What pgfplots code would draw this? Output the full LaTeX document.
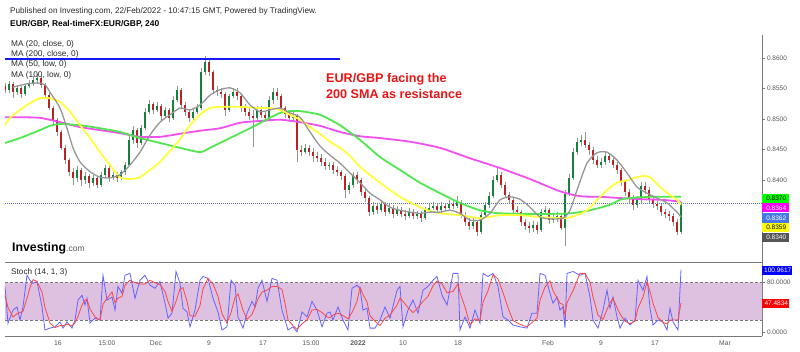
\documentclass[border=0pt]{standalone}
\usepackage{pgfplots}
\usepackage{pgfplotstable}
\pgfplotsset{compat=1.18}
\usepackage{fontspec}
\setmainfont{Liberation Sans}
\definecolor{upc}{RGB}{22,128,60}
\definecolor{dnc}{RGB}{185,35,35}
\definecolor{wick}{RGB}{140,155,140}
\definecolor{ma20}{RGB}{150,150,150}
\definecolor{ma50}{RGB}{255,255,60}
\definecolor{ma100}{RGB}{80,230,80}
\definecolor{ma200}{RGB}{240,80,240}
\definecolor{resist}{RGB}{25,25,245}
\definecolor{cur}{RGB}{80,110,230}
\definecolor{lilac}{RGB}{222,192,224}
\definecolor{kline}{RGB}{100,100,255}
\definecolor{dline}{RGB}{255,70,70}
\definecolor{axgray}{RGB}{120,120,120}
\definecolor{lblgray}{RGB}{85,85,85}
\definecolor{boxgreen}{RGB}{0,255,0}
\definecolor{boxmag}{RGB}{255,0,255}
\definecolor{boxblue}{RGB}{70,120,230}
\definecolor{boxyel}{RGB}{255,255,0}
\definecolor{boxgray}{RGB}{85,85,85}
\definecolor{annred}{RGB}{235,20,20}
\definecolor{stochblue}{RGB}{0,0,255}
\definecolor{txt}{RGB}{40,40,40}

\pgfplotstableread{
x o h l c
5 0.8554 0.8559 0.8543 0.8548
9 0.8548 0.8562 0.8543 0.8557
13 0.8557 0.8561 0.8534 0.8544
17 0.8544 0.8556 0.8539 0.8551
21 0.8551 0.8554 0.8534 0.8541
25 0.8541 0.8557 0.8538 0.8554
29 0.8554 0.8564 0.8551 0.8557
33 0.8557 0.8570 0.8554 0.8564
37 0.8564 0.8574 0.8557 0.8567
41 0.8567 0.8570 0.8551 0.8556
45 0.8556 0.8559 0.8534 0.8539
49 0.8539 0.8543 0.8515 0.8518
53 0.8518 0.8521 0.8492 0.8499
57 0.8499 0.8502 0.8472 0.8479
61 0.8479 0.8482 0.8450 0.8453
65 0.8453 0.8458 0.8427 0.8433
69 0.8433 0.8436 0.8407 0.8414
73 0.8414 0.8420 0.8392 0.8404
77 0.8404 0.8423 0.8397 0.8417
81 0.8417 0.8420 0.8391 0.8400
85 0.8400 0.8414 0.8394 0.8407
89 0.8407 0.8410 0.8387 0.8396
93 0.8396 0.8409 0.8391 0.8404
97 0.8404 0.8407 0.8387 0.8392
101 0.8392 0.8414 0.8389 0.8409
105 0.8409 0.8425 0.8404 0.8420
109 0.8420 0.8423 0.8397 0.8404
113 0.8404 0.8414 0.8400 0.8409
117 0.8409 0.8414 0.8397 0.8404
121 0.8404 0.8417 0.8400 0.8414
125 0.8414 0.8430 0.8409 0.8425
129 0.8425 0.8472 0.8423 0.8466
133 0.8466 0.8489 0.8459 0.8482
137 0.8482 0.8485 0.8453 0.8461
141 0.8461 0.8490 0.8458 0.8485
145 0.8485 0.8518 0.8482 0.8512
149 0.8512 0.8531 0.8508 0.8525
153 0.8525 0.8528 0.8508 0.8515
157 0.8515 0.8528 0.8512 0.8521
161 0.8521 0.8525 0.8499 0.8505
165 0.8505 0.8520 0.8502 0.8515
169 0.8515 0.8518 0.8495 0.8502
173 0.8502 0.8538 0.8499 0.8531
177 0.8531 0.8554 0.8528 0.8548
181 0.8548 0.8551 0.8518 0.8523
185 0.8523 0.8528 0.8505 0.8512
189 0.8512 0.8515 0.8495 0.8502
193 0.8502 0.8518 0.8499 0.8512
197 0.8512 0.8525 0.8508 0.8518
201 0.8518 0.8583 0.8515 0.8577
205 0.8577 0.8603 0.8572 0.8593
209 0.8593 0.8597 0.8570 0.8577
213 0.8577 0.8580 0.8541 0.8548
217 0.8548 0.8554 0.8538 0.8544
221 0.8544 0.8551 0.8534 0.8541
225 0.8541 0.8544 0.8505 0.8515
229 0.8515 0.8541 0.8512 0.8538
233 0.8538 0.8551 0.8534 0.8544
237 0.8544 0.8551 0.8531 0.8538
241 0.8538 0.8541 0.8512 0.8518
245 0.8518 0.8525 0.8505 0.8512
249 0.8512 0.8518 0.8499 0.8505
253 0.8505 0.8515 0.8454 0.8502
257 0.8502 0.8521 0.8495 0.8515
261 0.8515 0.8521 0.8502 0.8507
265 0.8507 0.8512 0.8495 0.8502
269 0.8502 0.8538 0.8499 0.8531
273 0.8531 0.8551 0.8525 0.8544
277 0.8544 0.8551 0.8531 0.8538
281 0.8538 0.8541 0.8512 0.8518
285 0.8518 0.8521 0.8502 0.8508
289 0.8508 0.8515 0.8495 0.8502
293 0.8502 0.8512 0.8495 0.8505
297 0.8505 0.8508 0.8430 0.8450
301 0.8450 0.8458 0.8440 0.8446
305 0.8446 0.8459 0.8443 0.8453
309 0.8453 0.8458 0.8440 0.8446
313 0.8446 0.8453 0.8430 0.8440
317 0.8440 0.8446 0.8430 0.8436
321 0.8436 0.8443 0.8423 0.8430
325 0.8430 0.8436 0.8417 0.8423
329 0.8423 0.8430 0.8417 0.8425
333 0.8425 0.8430 0.8410 0.8417
337 0.8417 0.8423 0.8407 0.8414
341 0.8414 0.8417 0.8400 0.8407
345 0.8407 0.8410 0.8371 0.8384
349 0.8384 0.8397 0.8378 0.8392
353 0.8392 0.8414 0.8387 0.8409
357 0.8409 0.8414 0.8394 0.8400
361 0.8400 0.8404 0.8374 0.8381
365 0.8381 0.8387 0.8365 0.8371
369 0.8371 0.8374 0.8342 0.8348
373 0.8348 0.8365 0.8343 0.8358
377 0.8358 0.8363 0.8345 0.8351
381 0.8351 0.8368 0.8348 0.8361
385 0.8361 0.8365 0.8342 0.8348
389 0.8348 0.8361 0.8345 0.8355
393 0.8355 0.8360 0.8338 0.8345
397 0.8345 0.8358 0.8342 0.8351
401 0.8351 0.8356 0.8340 0.8345
405 0.8345 0.8351 0.8335 0.8342
409 0.8342 0.8355 0.8338 0.8348
413 0.8348 0.8353 0.8337 0.8342
417 0.8342 0.8350 0.8337 0.8345
421 0.8345 0.8350 0.8332 0.8338
425 0.8338 0.8356 0.8335 0.8351
429 0.8351 0.8361 0.8348 0.8355
433 0.8355 0.8365 0.8351 0.8358
437 0.8358 0.8363 0.8346 0.8351
441 0.8351 0.8365 0.8346 0.8358
445 0.8358 0.8363 0.8350 0.8355
449 0.8355 0.8368 0.8351 0.8361
453 0.8361 0.8366 0.8353 0.8358
457 0.8358 0.8374 0.8355 0.8365
461 0.8365 0.8368 0.8338 0.8343
465 0.8343 0.8348 0.8325 0.8332
469 0.8332 0.8338 0.8319 0.8325
473 0.8325 0.8338 0.8320 0.8332
477 0.8332 0.8335 0.8309 0.8316
481 0.8316 0.8348 0.8312 0.8343
485 0.8343 0.8365 0.8338 0.8360
489 0.8360 0.8381 0.8355 0.8374
493 0.8374 0.8407 0.8371 0.8400
497 0.8400 0.8423 0.8397 0.8409
501 0.8409 0.8414 0.8387 0.8392
505 0.8392 0.8397 0.8371 0.8376
509 0.8376 0.8381 0.8361 0.8368
513 0.8368 0.8373 0.8346 0.8351
517 0.8351 0.8358 0.8342 0.8348
521 0.8348 0.8351 0.8325 0.8332
525 0.8332 0.8337 0.8319 0.8325
529 0.8325 0.8332 0.8314 0.8322
533 0.8322 0.8334 0.8316 0.8327
537 0.8327 0.8332 0.8312 0.8319
541 0.8319 0.8353 0.8316 0.8348
545 0.8348 0.8358 0.8343 0.8351
549 0.8351 0.8355 0.8329 0.8335
553 0.8335 0.8345 0.8330 0.8338
557 0.8338 0.8348 0.8332 0.8342
561 0.8342 0.8346 0.8319 0.8322
565 0.8322 0.8384 0.8293 0.8378
569 0.8378 0.8410 0.8374 0.8404
573 0.8404 0.8453 0.8400 0.8446
577 0.8446 0.8469 0.8441 0.8463
581 0.8463 0.8474 0.8456 0.8466
585 0.8466 0.8479 0.8453 0.8458
589 0.8458 0.8463 0.8441 0.8450
593 0.8450 0.8454 0.8427 0.8433
597 0.8433 0.8440 0.8420 0.8425
601 0.8425 0.8436 0.8420 0.8430
605 0.8430 0.8446 0.8425 0.8440
609 0.8440 0.8445 0.8428 0.8433
613 0.8433 0.8438 0.8420 0.8425
617 0.8425 0.8430 0.8410 0.8417
621 0.8417 0.8420 0.8391 0.8397
625 0.8397 0.8400 0.8374 0.8381
629 0.8381 0.8386 0.8363 0.8371
633 0.8371 0.8376 0.8351 0.8360
637 0.8360 0.8374 0.8355 0.8368
641 0.8368 0.8397 0.8363 0.8391
645 0.8391 0.8397 0.8378 0.8384
649 0.8384 0.8389 0.8361 0.8368
653 0.8368 0.8373 0.8355 0.8361
657 0.8361 0.8366 0.8351 0.8358
661 0.8358 0.8363 0.8342 0.8348
665 0.8348 0.8353 0.8338 0.8345
669 0.8345 0.8350 0.8334 0.8342
673 0.8342 0.8346 0.8325 0.8332
677 0.8332 0.8337 0.8311 0.8316
681 0.8316 0.8365 0.8312 0.8362
}\candles

\pgfplotstableread{
x y
13 0.8552
25 0.8557
38 0.8559
45 0.8556
50 0.8544
60 0.8518
67 0.8485
73 0.8453
80 0.8430
90 0.8414
100 0.8405
110 0.8404
120 0.8409
130 0.8425
140 0.8446
150 0.8474
160 0.8495
170 0.8507
180 0.8518
190 0.8515
200 0.8523
210 0.8539
220 0.8548
230 0.8551
240 0.8543
250 0.8523
260 0.8512
270 0.8515
280 0.8518
290 0.8510
300 0.8503
310 0.8479
320 0.8456
330 0.8441
340 0.8428
350 0.8412
360 0.8396
370 0.8379
380 0.8368
390 0.8356
400 0.8351
410 0.8348
420 0.8346
430 0.8348
440 0.8348
450 0.8351
460 0.8346
470 0.8335
480 0.8335
490 0.8346
500 0.8368
510 0.8373
520 0.8369
530 0.8356
540 0.8340
550 0.8337
563 0.8338
570 0.8351
577 0.8384
587 0.8428
597 0.8445
607 0.8446
617 0.8433
627 0.8412
637 0.8389
647 0.8379
657 0.8371
667 0.8363
677 0.8348
681 0.8340
}\maA

\pgfplotstableread{
x y
5 0.8490
10 0.8502
20 0.8515
30 0.8526
40 0.8534
50 0.8534
60 0.8528
70 0.8512
80 0.8490
90 0.8469
100 0.8446
110 0.8425
120 0.8405
130 0.8402
140 0.8405
150 0.8417
160 0.8430
170 0.8448
180 0.8467
190 0.8490
200 0.8507
210 0.8518
220 0.8520
240 0.8520
260 0.8518
270 0.8518
280 0.8515
290 0.8507
300 0.8499
310 0.8487
320 0.8476
330 0.8463
340 0.8453
350 0.8440
360 0.8422
380 0.8396
400 0.8373
420 0.8356
430 0.8350
440 0.8346
460 0.8343
480 0.8338
500 0.8343
520 0.8343
540 0.8340
565 0.8338
577 0.8343
587 0.8351
597 0.8368
607 0.8384
617 0.8396
627 0.8400
637 0.8405
643 0.8407
650 0.8405
660 0.8389
670 0.8376
677 0.8368
681 0.8360
}\maB

\pgfplotstableread{
x y
5 0.8461
20 0.8469
40 0.8482
50 0.8489
60 0.8492
80 0.8490
100 0.8485
120 0.8479
140 0.8469
160 0.8461
180 0.8453
200 0.8446
210 0.8453
230 0.8469
250 0.8485
270 0.8502
280 0.8510
290 0.8513
300 0.8513
320 0.8507
340 0.8490
360 0.8466
380 0.8438
400 0.8417
420 0.8396
440 0.8379
460 0.8363
480 0.8351
500 0.8346
540 0.8345
570 0.8346
590 0.8351
610 0.8360
620 0.8368
630 0.8371
650 0.8373
681 0.8373
}\maC

\pgfplotstableread{
x y
5 0.8503
20 0.8503
40 0.8502
60 0.8495
80 0.8487
100 0.8482
120 0.8477
140 0.8471
160 0.8471
180 0.8476
200 0.8481
220 0.8485
240 0.8494
260 0.8497
280 0.8499
300 0.8495
320 0.8489
340 0.8479
360 0.8472
380 0.8469
410 0.8463
440 0.8453
470 0.8436
500 0.8420
530 0.8402
560 0.8382
580 0.8374
600 0.8373
620 0.8371
643 0.8369
663 0.8368
681 0.8365
}\maD

\pgfplotstableread{
x k d
5 74 60
8 15 40
13 36 25
17 41 30
20 20 32
23 41 34
27 92 55
30 84 72
33 79 85
37 82 82
42 41 65
45 4 40
50 7 15
55 9 8
60 17 11
63 7 11
67 17 13
72 7 11
75 20 15
78 52 26
82 60 44
85 44 52
87 55 53
90 15 38
95 23 25
100 20 20
103 92 45
107 52 55
112 57 65
115 36 48
118 74 55
122 63 58
125 92 76
130 95 84
135 55 80
140 84 78
145 92 78
150 76 84
155 71 80
160 82 77
165 47 66
168 23 50
172 31 34
176 98 50
180 79 70
183 39 72
187 33 50
190 9 27
195 36 26
200 84 43
203 90 70
208 87 87
213 55 78
218 33 58
222 4 30
227 9 15
231 84 32
235 76 56
238 25 62
243 7 36
247 31 21
252 50 29
255 41 41
258 71 54
262 84 65
267 50 68
272 87 74
277 84 74
282 36 69
285 20 47
288 4 20
293 9 11
297 1 5
302 33 14
307 25 20
312 50 36
317 36 37
322 9 32
327 31 25
330 33 24
333 20 28
338 41 31
343 20 27
348 4 22
352 71 32
357 76 50
360 71 73
363 36 61
367 39 49
370 7 27
375 7 18
380 20 11
385 41 23
390 23 28
397 68 44
400 74 55
403 9 50
408 36 40
413 52 32
418 31 40
423 68 50
428 74 58
433 84 75
437 90 83
442 60 78
447 44 64
453 95 66
458 95 78
460 4 64
465 25 41
470 7 12
475 36 22
480 15 19
483 95 49
488 90 67
493 95 93
498 74 86
503 25 64
508 20 40
513 12 19
520 9 13
527 7 9
532 31 16
537 31 23
540 95 52
545 92 73
550 63 83
553 47 67
557 57 56
560 36 47
563 41 45
565 7 28
567 95 48
573 98 67
580 92 95
585 95 95
590 57 81
593 20 57
598 7 28
603 36 21
607 68 37
610 39 48
613 57 55
617 25 40
620 7 30
625 23 18
630 12 14
635 20 18
638 84 39
643 68 57
647 90 81
650 39 66
653 12 47
658 20 24
663 17 16
667 4 14
670 39 20
673 17 20
678 4 20
681 100.96 47.48
}\stoch

\begin{document}
\begin{tikzpicture}[x=1pt,y=1pt]

% ---------- price panel ----------
\begin{axis}[
  at={(5pt,89pt)}, anchor=south west, scale only axis,
  width=757pt, height=227pt,
  xmin=5, xmax=762, ymin=0.82665, ymax=0.86374,
  axis x line=none, axis y line=right,
  axis line style={draw=axgray, line width=0.8pt, -},
  xtick=\empty,
  ytick={0.84,0.845,0.85,0.855,0.86},
  yticklabels={0.8400,0.8450,0.8500,0.8550,0.8600},
  y tick label style={font=\fontsize{6.5}{7}\selectfont, text=lblgray, xshift=-1pt},
  tick align=outside, major tick length=2.5pt,
  tick style={draw=axgray, line width=0.5pt},
  clip=true,
]
% wicks
\addplot[only marks, mark=none, mark size=0pt, mark options={draw opacity=0, fill opacity=0}, forget plot, color=wick,
  error bars/.cd, y dir=plus, y explicit, error mark=none,
  error bar style={color=wick, line width=0.6pt}]
  table[x=x, y=l, y error plus expr={\thisrow{h}-\thisrow{l}}] {\candles};
% up bodies
\addplot[only marks, mark=none, mark size=0pt, mark options={draw opacity=0, fill opacity=0}, forget plot, color=upc,
  error bars/.cd, y dir=plus, y explicit, error mark=none,
  error bar style={color=upc, line width=2.2pt}]
  table[x=x, y expr={\thisrow{c}>\thisrow{o} ? \thisrow{o} : nan},
        y error plus expr={\thisrow{c}-\thisrow{o}}] {\candles};
% down bodies
\addplot[only marks, mark=none, mark size=0pt, mark options={draw opacity=0, fill opacity=0}, forget plot, color=dnc,
  error bars/.cd, y dir=plus, y explicit, error mark=none,
  error bar style={color=dnc, line width=2.2pt}]
  table[x=x, y expr={\thisrow{o}>\thisrow{c} ? \thisrow{c} : nan},
        y error plus expr={\thisrow{o}-\thisrow{c}}] {\candles};
% current price line and resistance
\addplot[cur, line width=0.6pt, dash pattern=on 1pt off 1pt] coordinates {(5,0.8362) (762,0.8362)};
\addplot[resist, line width=1.8pt] coordinates {(5,0.8598) (340,0.8598)};
% moving averages
\addplot[ma200, line width=1.8pt, smooth, tension=0.4] table[x=x,y=y] {\maD};
\addplot[ma100, line width=1.8pt, smooth, tension=0.4] table[x=x,y=y] {\maC};
\addplot[ma50, line width=1.8pt, smooth, tension=0.4] table[x=x,y=y] {\maB};
\addplot[ma20, line width=1.3pt, smooth, tension=0.4] table[x=x,y=y] {\maA};
\end{axis}

% ---------- stochastic panel ----------
\begin{axis}[
  at={(5pt,15pt)}, anchor=south west, scale only axis,
  width=757pt, height=74pt,
  xmin=5, xmax=762, ymin=-5.7, ymax=113.3,
  axis x line=bottom, axis y line=right,
  axis line style={draw=axgray, line width=0.8pt, -},
  xtick={58,107,156,209,263,311,358,403,458,548,601,655,725},
  xticklabels={16,15:00,Dec,9,17,15:00,\textbf{2022},10,18,Feb,9,17,Mar},
  x tick label style={font=\fontsize{6.8}{7}\selectfont, text=lblgray, yshift=1pt},
  x tick style={draw=none},
  ytick={0,80},
  yticklabels={0.0000,80.0000},
  y tick label style={font=\fontsize{6.5}{7}\selectfont, text=lblgray, xshift=-1pt},
  tick align=outside, major tick length=2.5pt,
  y tick style={draw=axgray, line width=0.5pt},
  clip=true,
]
\addplot[draw=none, fill=lilac] coordinates {(5,20) (762,20) (762,80) (5,80) (5,20)};
\addplot[axgray, line width=0.7pt, dash pattern=on 3pt off 2pt] coordinates {(5,80) (762,80)};
\addplot[axgray, line width=0.7pt, dash pattern=on 3pt off 2pt] coordinates {(5,20) (762,20)};
\addplot[kline, line width=0.8pt] table[x=x,y=k] {\stoch};
\addplot[dline, line width=0.8pt] table[x=x,y=d] {\stoch};
\end{axis}

% panel separator
\draw[axgray, line width=0.8pt] (5,89) -- (762,89);

% ---------- texts ----------
\node[anchor=west, inner sep=0pt, text=txt, font=\fontsize{8.2}{9}\selectfont] at (10,340) {Published on Investing.com, 22/Feb/2022 - 10:47:15 GMT, Powered by TradingView.};
\node[anchor=west, inner sep=0pt, text=black, font=\fontsize{8.4}{9}\selectfont\bfseries] at (10,327) {EUR/GBP, Real-timeFX:EUR/GBP, 240};
\node[anchor=west, inner sep=0pt, text=txt, font=\fontsize{8.3}{9}\selectfont] at (11,307) {MA (20, close, 0)};
\node[anchor=west, inner sep=0pt, text=txt, font=\fontsize{8.3}{9}\selectfont] at (11,296.5) {MA (200, close, 0)};
\node[anchor=west, inner sep=0pt, text=txt, font=\fontsize{8.3}{9}\selectfont] at (11,286.5) {MA (50, low, 0)};
\node[anchor=west, inner sep=0pt, text=txt, font=\fontsize{8.3}{9}\selectfont] at (11,276) {MA (100, low, 0)};
\node[anchor=west, inner sep=0pt, text=annred, font=\fontsize{12.6}{14}\selectfont\bfseries] at (326,272) {EUR/GBP facing the};
\node[anchor=west, inner sep=0pt, text=annred, font=\fontsize{12.6}{14}\selectfont\bfseries] at (326,257) {200 SMA as resistance};
\node[anchor=west, inner sep=0pt, text=txt, font=\fontsize{8.2}{9}\selectfont] at (11,78.5) {Stoch (14, 1, 3)};
\node[anchor=base west, inner sep=0pt, font=\fontsize{12.3}{13}\selectfont\bfseries] at (12,100) {Investing\textcolor{lblgray}{\mdseries\fontsize{8.5}{9}\selectfont .com}};

% price boxes
\begin{scope}[every node/.style={anchor=west, inner sep=0pt, minimum height=9pt, minimum width=27pt, font=\fontsize{6.5}{7}\selectfont}]
\node[fill=boxgreen, text=black] at (762,152.5) {\,0.8370};
\node[fill=boxmag, text=white] at (762,143) {\,0.8364};
\node[fill=boxblue, text=white] at (762,133) {\,0.8362};
\node[fill=boxyel, text=black] at (762,123.3) {\,0.8359};
\node[fill=boxgray, text=white] at (762,113.3) {\,0.8340};
\node[fill=stochblue, text=white, minimum width=30pt] at (762,81) {\,100.9617};
\node[fill=red, text=white] at (762,48) {\,47.4834};
\end{scope}
\path (0,0) rectangle (800,351);
\end{tikzpicture}
\end{document}
